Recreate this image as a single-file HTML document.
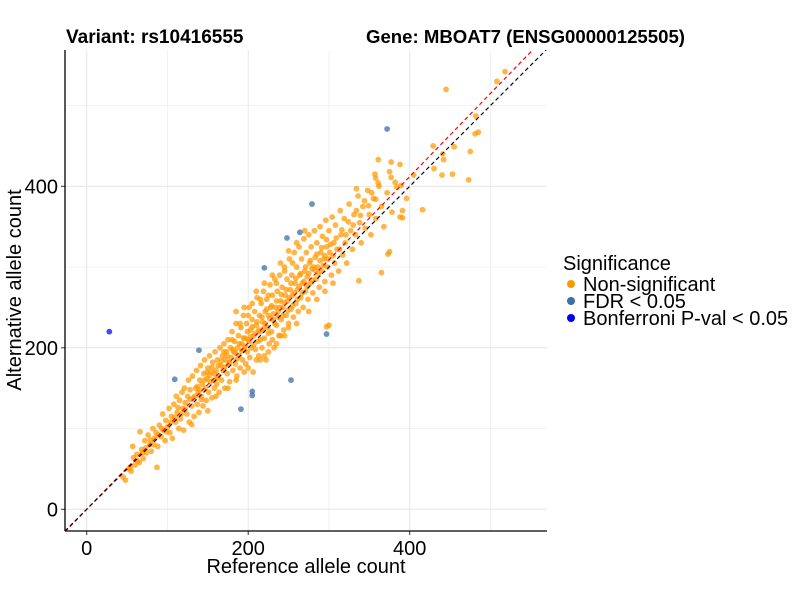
<!DOCTYPE html>
<html><head><meta charset="utf-8"><style>
body{margin:0;background:#fff;}
svg{display:block;font-family:"Liberation Sans",Arial,sans-serif;}
</style></head><body>
<svg id="chart" width="800" height="600" viewBox="0 0 800 600" xmlns="http://www.w3.org/2000/svg">
<rect width="800" height="600" fill="#fff"/>
<g id="grid"></g>
<g id="lines"></g>
<g id="points"></g>
<g id="axes"></g>
<text x="66" y="43" font-size="19" font-weight="bold">Variant: rs10416555</text>
<text x="366" y="43" font-size="18.6" font-weight="bold">Gene: MBOAT7 (ENSG00000125505)</text>
<text x="306" y="573" font-size="20" text-anchor="middle">Reference allele count</text>
<text transform="translate(21,290) rotate(-90)" font-size="20" text-anchor="middle">Alternative allele count</text>
<g>
<text x="563" y="270" font-size="20">Significance</text>
<circle cx="571" cy="284" r="4" fill="#ff9900"/>
<text x="583" y="291" font-size="20">Non-significant</text>
<circle cx="571" cy="301" r="4" fill="#3d6fa8"/>
<text x="583" y="308" font-size="20">FDR &lt; 0.05</text>
<circle cx="571" cy="318" r="4" fill="#0000ff"/>
<text x="583" y="325" font-size="20">Bonferroni P-val &lt; 0.05</text>
</g>
</svg>
<script>
const xTicks=[0,200,400];
const yTicks=[0,200,400];
const minorTicks=[100,300,500];
const redSlope=1.03;
const fdrX=[372,279,264,248,220,297,139,109,253,205,205,191];
const fdrY=[471,378,343,336,299,217,197,161,160,146,141,124];
const bonfX=[28];
const bonfY=[220];
const orangePairs=[[45,40],[48,36],[52,50],[55,47],[57,78],[60,55],[62,68],[65,58],[66,96],[68,74],[70,63],[72,85],[74,70],[76,92],[78,80],[80,72],[82,100],[84,88],[86,95],[87,52],[88,78],[90,104],[92,90],[94,118],[95,98],[97,85],[98,110],[100,102],[102,125],[103,95],[105,115],[106,88],[108,130],[110,108],[111,140],[112,120],[114,100],[115,135],[116,112],[118,145],[119,125],[120,98],[121,150],[122,132],[124,118],[125,140],[126,160],[127,108],[128,148],[130,128],[131,165],[132,138],[133,115],[135,150],[136,172],[137,130],[138,145],[139,120],[140,160],[141,178],[142,140],[143,155],[144,128],[145,168],[146,185],[147,150],[148,135],[149,162],[150,175],[151,145],[152,190],[153,158],[154,170],[155,138],[156,182],[157,160],[158,150],[159,195],[160,172],[161,155],[162,185],[163,165],[164,145],[165,200],[166,178],[167,160],[168,190],[169,172],[170,205],[171,150],[172,185],[173,195],[174,168],[175,210],[176,180],[177,158],[178,200],[179,188],[180,220],[181,172],[182,195],[183,208],[184,180],[185,230],[186,165],[187,200],[188,215],[189,190],[190,175],[191,225],[192,205],[193,185],[194,240],[195,198],[196,212],[197,180],[198,230],[199,195],[200,210],[201,250],[202,188],[203,222],[204,200],[205,235],[206,170],[207,215],[208,245],[209,198],[210,228],[211,262],[212,208],[213,190],[214,240],[215,220],[216,255],[217,200],[218,232],[219,270],[220,212],[221,245],[222,185],[223,260],[224,225],[225,240],[226,205],[227,278],[228,250],[229,220],[230,265],[231,235],[232,200],[233,285],[234,250],[235,228],[236,270],[237,245],[238,215],[239,290],[240,258],[241,235],[242,275],[243,250],[244,222],[245,300],[246,265],[247,240],[248,285],[249,258],[250,230],[251,310],[252,272],[253,248],[254,290],[255,265],[256,238],[257,318],[258,280],[259,255],[260,300],[261,272],[262,245],[263,325],[264,290],[265,262],[266,310],[267,280],[268,250],[269,335],[270,295],[271,270],[272,318],[273,288],[274,260],[275,340],[276,305],[277,280],[278,325],[279,298],[280,268],[282,345],[283,312],[284,285],[285,330],[286,300],[288,275],[289,350],[290,318],[291,295],[292,338],[294,310],[295,282],[296,358],[297,325],[298,300],[300,345],[301,318],[303,290],[304,362],[306,330],[307,305],[308,352],[310,322],[312,295],[314,370],[315,340],[317,315],[319,360],[320,330],[322,305],[325,378],[327,345],[329,322],[331,365],[333,340],[336,388],[338,355],[340,330],[342,375],[345,348],[348,395],[350,365],[352,340],[355,385],[358,360],[362,400],[365,375],[368,350],[372,392],[378,368],[382,405],[297,226],[300,228],[445,520],[518,542],[508,530],[482,487],[485,467],[481,465],[475,443],[473,408],[455,449],[429,450],[441,440],[442,433],[430,422],[440,414],[453,415],[416,371],[405,414],[361,433],[377,430],[388,427],[375,418],[357,415],[358,410],[361,404],[377,411],[334,397],[389,401],[384,399],[396,385],[391,370],[388,362],[391,361],[365,293],[373,316],[375,319],[337,283],[142,136],[150,122],[130,105],[160,140],[175,150],[185,160],[195,170],[210,185],[220,190],[230,210],[240,215],[250,225],[200,240],[190,230],[180,210],[170,195],[215,260],[225,265],[235,280],[245,295],[255,305],
[163,178],[167,184],[171,176],[174,190],[177,182],[181,198],[184,194],[186,186],[189,205],[192,196],[194,212],[196,202],[199,220],[201,208],[203,214],[205,226],[207,204],[209,218],[211,232],[213,222],[215,210],[217,238],[219,224],[221,230],[223,248],[225,218],[227,236],[229,252],[231,242],[233,230],[235,258],[237,238],[239,250],[241,266],[243,240],[245,256],[247,272],[249,246],[251,262],[253,280],[255,252],[257,268],[259,286],[261,260],[263,276],[265,292],[267,268],[269,282],[271,300],[273,276],[275,292],[277,308],[279,284],[281,300],[283,296],[285,316],[287,292],[289,308],[291,324],[293,302],[295,314],[297,334],[299,310],[302,328],[305,314],[309,336],[313,322],[316,346],[321,340],[324,356],[330,352],[334,370],[339,364],[344,382],[349,376],[353,392],[358,384],[146,160],[149,170],[152,166],[155,176],[158,168],[161,162],[137,152],[140,148],[134,140],[128,136],[122,124],[117,118],[113,126],[109,114],[104,108],[99,96],[93,100],[89,92],[83,80],[79,86],[73,76],[69,70],[63,60],[58,64],[54,52],[210,270],[220,280],[205,255],[195,250],[185,245],[230,290],[240,305],[250,320],[260,330],[270,345],[200,175],[215,185],[225,195],[235,205],[245,215],[260,230],[275,245],[285,260],[295,270],[305,280]];
const orangeX=orangePairs.map(p=>p[0]);
const orangeY=orangePairs.map(p=>p[1]);

const NS="http://www.w3.org/2000/svg";
const L=65,R=547,T=50,B=531;
const x0=86.7,y0=509.3,k=0.8075;
const sx=v=>x0+v*k;
const sy=v=>y0-v*k;
const xMin=(L-x0)/k,xMax=(R-x0)/k;
function mk(tag,attrs,parent){const e=document.createElementNS(NS,tag);for(const a in attrs)e.setAttribute(a,attrs[a]);parent.appendChild(e);return e;}
const grid=document.getElementById('grid'),axes=document.getElementById('axes'),lines=document.getElementById('lines'),pts=document.getElementById('points');
minorTicks.forEach(v=>{
 let g=mk('line',{x1:sx(v),x2:sx(v),y1:T,y2:B,stroke:'#f0f0f0','stroke-width':0.8},grid);
 
 
 let h=mk('line',{x1:L,x2:R,y1:sy(v),y2:sy(v),stroke:'#f0f0f0','stroke-width':0.8},grid);
 
 
});
xTicks.forEach(v=>{
 let g=mk('line',{x1:sx(v),x2:sx(v),y1:T,y2:B,stroke:'#e6e6e6','stroke-width':1},grid);
 
 
 let t=mk('line',{x1:sx(v),x2:sx(v),y1:B,y2:B+4,stroke:'#333','stroke-width':1},axes);
 
 
 let l=mk('text',{x:sx(v),y:B+24,'font-size':20,'text-anchor':'middle',fill:'#000'},axes);
 l.textContent=v;
 
 
});
yTicks.forEach(v=>{
 let g=mk('line',{x1:L,x2:R,y1:sy(v),y2:sy(v),stroke:'#e6e6e6','stroke-width':1},grid);
 
 
 let t=mk('line',{x1:L-4,x2:L,y1:sy(v),y2:sy(v),stroke:'#333','stroke-width':1},axes);
 
 
 let l=mk('text',{x:L-7,y:sy(v)+7,'font-size':20,'text-anchor':'end',fill:'#000'},axes);
 l.textContent=v;
 
 
});
let ax=mk('line',{x1:L,x2:R,y1:B,y2:B,stroke:'#000','stroke-width':1.3},axes);


let ay=mk('line',{x1:L,x2:L,y1:T,y2:B,stroke:'#000','stroke-width':1.3},axes);


const defs=mk('defs',{},document.getElementById('chart'));
const cp=mk('clipPath',{id:'pc'},defs);mk('rect',{x:L,y:T,width:R-L,height:B-T},cp);
lines.setAttribute('clip-path','url(#pc)');
function pt(c,a,col,op,name){
 let e=mk('circle',{cx:sx(c),cy:sy(a),r:2.9,fill:col,'fill-opacity':op},pts);
 
 
}
orangeX.forEach((v,i)=>pt(v,orangeY[i],'#ff9900',0.72,'point-non-significant'));
fdrX.forEach((v,i)=>pt(v,fdrY[i],'#3d6fa8',0.75,'point-fdr'));
bonfX.forEach((v,i)=>pt(v,bonfY[i],'#0000ff',0.72,'point-bonferroni'));
let red=mk('line',{x1:sx(xMin),y1:sy(xMin*redSlope),x2:sx(xMax),y2:sy(xMax*redSlope),stroke:'#ff0000','stroke-width':1.2,'stroke-dasharray':'4 3'},lines);


let blk=mk('line',{x1:sx(xMin),y1:sy(xMin),x2:sx(xMax),y2:sy(xMax),stroke:'#000','stroke-width':1.2,'stroke-dasharray':'4 3'},lines);


document.getElementById('chart').appendChild(lines);
</script>
</body></html>
